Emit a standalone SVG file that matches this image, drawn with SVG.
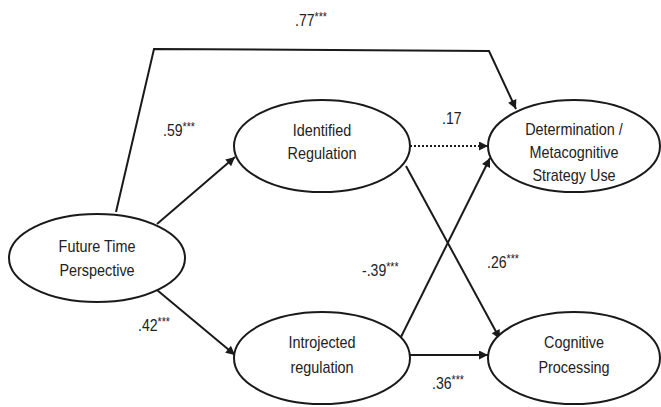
<svg xmlns="http://www.w3.org/2000/svg" width="661" height="407" viewBox="0 0 661 407">
<style>
.n ellipse{fill:#fff;stroke:#1a1a1a;stroke-width:2}
text{font-family:"Liberation Sans",Arial,sans-serif;font-size:16px;fill:#222;text-anchor:middle}
.lbl{text-anchor:start;font-size:16px}
.s{font-size:12px}
.c path{fill:none;stroke:#1a1a1a;stroke-width:2}
</style>
<defs>
<marker id="a" viewBox="0 0 10 10" refX="10" refY="5" markerWidth="11" markerHeight="9" orient="auto" markerUnits="userSpaceOnUse">
<path d="M0,0 L10,5 L0,10 Z" fill="#1a1a1a"/>
</marker>
</defs>
<g class="c" id="connectors">
<path d="M116,212 L154,49 L489,51 L516,109" marker-end="url(#a)"/>
<path d="M157,224 L235,157" marker-end="url(#a)"/>
<path d="M157,290 L235,355" marker-end="url(#a)"/>
<path d="M410,146 L488,146" stroke-dasharray="2,2" marker-end="url(#a)"/>
<path d="M406,166 L500,339" marker-end="url(#a)"/>
<path d="M396,347 L490,158" marker-end="url(#a)"/>
<path d="M410,355 L488,355" marker-end="url(#a)"/>
</g>
<g id="labels">
<text class="lbl" transform="translate(295,26) scale(0.88,1)">.77<tspan class="s" dy="-5">***</tspan></text>
<text class="lbl" transform="translate(163,136) scale(0.88,1)">.59<tspan class="s" dy="-5">***</tspan></text>
<text class="lbl" transform="translate(442,124) scale(0.88,1)">.17</text>
<text class="lbl" transform="translate(487,268) scale(0.88,1)">.26<tspan class="s" dy="-5">***</tspan></text>
<text class="lbl" transform="translate(362,276) scale(0.88,1)">-.39<tspan class="s" dy="-5">***</tspan></text>
<text class="lbl" transform="translate(138,331) scale(0.88,1)">.42<tspan class="s" dy="-5">***</tspan></text>
<text class="lbl" transform="translate(432,389) scale(0.88,1)">.36<tspan class="s" dy="-5">***</tspan></text>
</g>
<g class="n" id="ftp">
<ellipse cx="97" cy="258" rx="88" ry="44"/>
<g transform="translate(97,0) scale(0.9,1)">
<text x="0" y="252">Future Time</text>
<text x="0" y="276">Perspective</text>
</g>
</g>
<g class="n" id="identified">
<ellipse cx="322" cy="146" rx="88" ry="46"/>
<g transform="translate(322,0) scale(0.9,1)">
<text x="0" y="136">Identified</text>
<text x="0" y="159">Regulation</text>
</g>
</g>
<g class="n" id="determination">
<ellipse cx="574" cy="146" rx="86" ry="46"/>
<g transform="translate(574,0) scale(0.9,1)">
<text x="0" y="135">Determination /</text>
<text x="0" y="158">Metacognitive</text>
<text x="0" y="181">Strategy Use</text>
</g>
</g>
<g class="n" id="introjected">
<ellipse cx="322" cy="358" rx="88" ry="46"/>
<g transform="translate(322,0) scale(0.9,1)">
<text x="0" y="348">Introjected</text>
<text x="0" y="373">regulation</text>
</g>
</g>
<g class="n" id="cognitive">
<ellipse cx="574" cy="358" rx="86" ry="46"/>
<g transform="translate(574,0) scale(0.9,1)">
<text x="0" y="348">Cognitive</text>
<text x="0" y="373">Processing</text>
</g>
</g>
</svg>
